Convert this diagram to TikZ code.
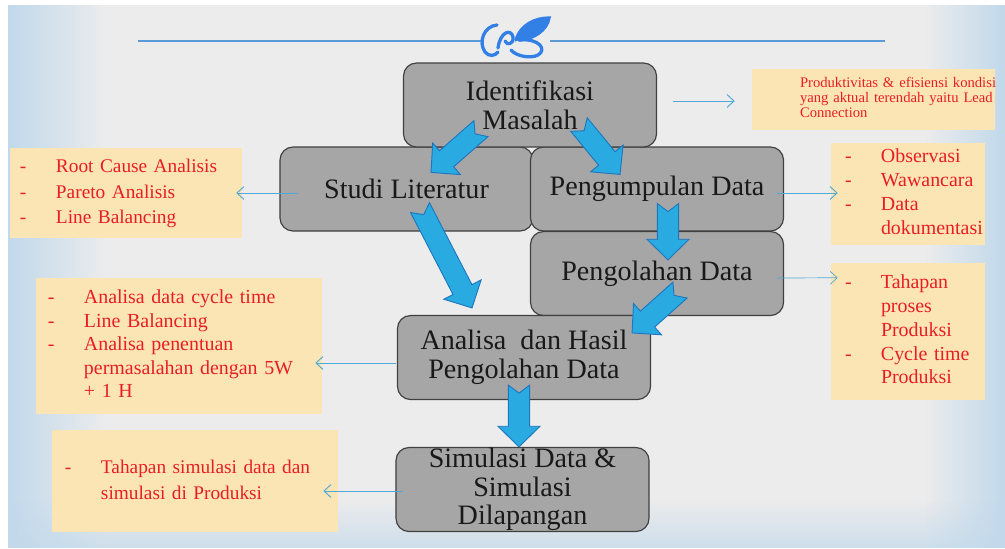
\documentclass[tikz,border=0pt]{standalone}
\usepackage{fontspec}
\setmainfont{Liberation Serif}
\usetikzlibrary{calc,arrows.meta,fadings}
\definecolor{slidegray}{RGB}{236,236,237}
\definecolor{slideblue}{RGB}{193,217,235}
\definecolor{boxfill}{RGB}{166,166,166}
\definecolor{boxline}{RGB}{64,64,64}
\definecolor{notefill}{RGB}{252,229,180}
\definecolor{notered}{RGB}{232,30,36}
\definecolor{arrowfill}{RGB}{41,171,226}
\definecolor{arrowline}{RGB}{30,118,190}
\definecolor{linkblue}{RGB}{80,168,214}
\definecolor{ruleblue}{RGB}{90,155,215}
\definecolor{logoblue}{RGB}{50,128,230}
\tikzset{
  stepbox/.style={draw=boxline, fill=boxfill, line width=1pt, rounded corners=0.39cm,
    minimum width=7.59cm, minimum height=2.52cm, inner ysep=0pt, align=center,
    font=\fontsize{24}{24.5}\selectfont, text=black!90},
  note/.style={fill=notefill, text=notered, inner sep=0pt, align=left},
  link/.style={draw=linkblue, line width=0.8pt, -{Straight Barb[length=6pt,width=11pt]}},
  fat/.style={draw=arrowline, fill=arrowfill, line width=0.8pt, line join=miter},
}
\newcommand{\notelist}[2]{\begin{tabular}{@{\hspace{#1}}p{1.08cm}@{}l@{}}#2\end{tabular}}
\newcommand{\fatarrow}[2]{%
  \coordinate (fh) at ($(#2)!0.62cm!(#1)$);
  \draw[fat] ($(#1)!0.32cm!90:(#2)$) -- ($(fh)!0.32cm!90:(#2)$) -- ($(fh)!0.63cm!90:(#2)$) -- (#2)
    -- ($(fh)!0.63cm!-90:(#2)$) -- ($(fh)!0.32cm!-90:(#2)$) -- ($(#1)!0.32cm!-90:(#2)$)
    -- ($(#1)!0.24cm!(#2)$) -- cycle;}
\begin{document}
\begin{tikzpicture}[x=0.03cm, y=-0.03cm]
  \useasboundingbox (0,0) rectangle (1005,548);
  \fill[white] (0,0) rectangle (1005,548);
  \fill[slidegray] (8,5) rectangle (1005,548);
  \fill[slideblue, path fading=east] (8,5) rectangle (105,548);
  \fill[slideblue, path fading=west] (925,5) rectangle (1005,548);
  \fill[slideblue, path fading=north, fill opacity=0.7] (8,500) rectangle (1005,548);

  \draw[ruleblue, line width=1.3pt] (138,41) -- (481,41) (550,41) -- (885,41);
  \begin{scope}[logoblue, line width=2.8pt, line cap=round]
    \draw (497,25) .. controls (484,26) and (478,42) .. (485,52) .. controls (489,57) and (495,56) .. (498,52);
    \draw (498,48) .. controls (500,32) and (511,28) .. (513,37) .. controls (514,44) and (507,46) .. (505,41);
    \filldraw (516,40) .. controls (521,24) and (536,18) .. (549,18) .. controls (547,30) and (534,39) .. (519,40);
    \draw (519,40) .. controls (540,38) and (547,50) .. (538,55) .. controls (530,59) and (516,56) .. (511,50);
  \end{scope}

  \node[note, text width=7.29cm, minimum height=1.83cm, font=\fontsize{12.5}{12.8}\selectfont] (prod) at (873.5,99.5)
    {\begin{tabular}{@{\hspace{1.44cm}}l@{}}Produktivitas \& efisiensi kondisi\\yang aktual terendah yaitu Lead\\Connection\end{tabular}};
  \node[note, text width=6.96cm, minimum height=2.7cm, font=\fontsize{16.5}{22}\selectfont] (lit) at (126,193)
    {\notelist{0.3cm}{-&Root Cause Analisis\\-&Pareto Analisis\\-&Line Balancing}};
  \node[note, text width=4.62cm, minimum height=3.06cm, font=\fontsize{17}{20.5}\selectfont] (obs) at (908,194)
    {\notelist{0.42cm}{-&Observasi\\-&Wawancara\\-&Data\\&dokumentasi}};
  \node[note, text width=4.62cm, minimum height=4.11cm, font=\fontsize{17}{20.3}\selectfont] (proses) at (908,331.5)
    {\notelist{0.42cm}{-&Tahapan\\&proses\\&Produksi\\-&Cycle time\\&Produksi}};
  \node[note, text width=8.58cm, minimum height=4.08cm, font=\fontsize{17}{20}\selectfont] (cyc) at (179,346)
    {\notelist{0.36cm}{-&Analisa data cycle time\\-&Line Balancing\\-&Analisa penentuan\\&permasalahan dengan 5W\\&+ 1 H}};
  \node[note, text width=8.58cm, minimum height=3.06cm, font=\fontsize{16.5}{22}\selectfont] (simnote) at (195,481)
    {\notelist{0.39cm}{-&Tahapan simulasi data dan\\&simulasi di Produksi}};

  \node[stepbox] (studi) at (406.5,189) {Studi Literatur};
  \node[stepbox] (kumpul) at (657,189) {Pengumpulan Data};
  \node[stepbox] (ident) at (530,105) {Identifikasi\\Masalah};
  \node[stepbox] (olah) at (657,273.5) {Pengolahan Data};
  \node[stepbox] (analisa) at (524,357.5) {Analisa\ \ dan Hasil\\Pengolahan Data};
  \node[stepbox] (simul) at (522.5,489.5) {Simulasi Data \&\\Simulasi\\Dilapangan};

  \draw[link] ($(ident.east)+(16,-4)$) -- ($(prod.west)+(-17,1.5)$);
  \draw[link] ($(studi.west)+(19,4)$) -- ($(lit.east)+(-6,0)$);
  \draw[link] ($(kumpul.east)+(-7,4)$) -- ($(obs.west)+(7,-1)$);
  \draw[link, line width=0.6pt] ($(olah.east)+(-7,4.5)$) -- ($(proses.north west)+(7,15)$);
  \draw[link] ($(analisa.west)+(-1,5.5)$) -- ($(cyc.east)+(-7,17)$);
  \draw[link] ($(simul.west)+(8,1.5)$) -- ($(simnote.east)+(-15,10)$);

  \coordinate (t1) at ($(ident.south)+(-49,-19)$);
  \coordinate (h1) at ($(studi.north)+(24.5,26)$);
  \coordinate (t2) at ($(ident.south)+(49,-23)$);
  \coordinate (h2) at ($(kumpul.north)+(-37,28)$);
  \coordinate (t3) at ($(studi.south)+(13.5,-24)$);
  \coordinate (h3) at ($(analisa.north)+(-52,-7)$);
  \coordinate (t4) at ($(kumpul.south)+(11,-28)$);
  \coordinate (h4) at ($(olah.north)+(11,29)$);
  \coordinate (t5) at ($(olah.south)+(23,-26)$);
  \coordinate (h5) at ($(analisa.north east)+(-19,18)$);
  \coordinate (t6) at ($(analisa.south)+(-5,-15)$);
  \coordinate (h6) at ($(simul.north)+(-3.5,0)$);
  \fatarrow{t1}{h1}
  \fatarrow{t2}{h2}
  \fatarrow{t3}{h3}
  \fatarrow{t4}{h4}
  \fatarrow{t5}{h5}
  \fatarrow{t6}{h6}
\end{tikzpicture}
\end{document}
